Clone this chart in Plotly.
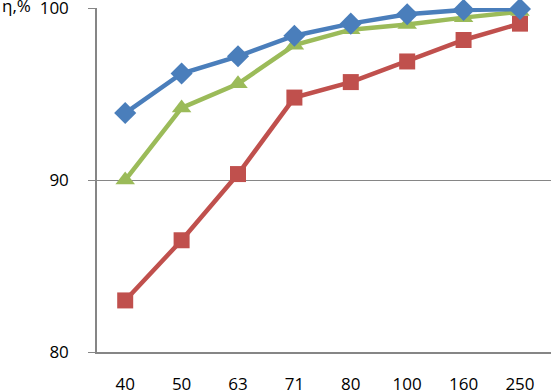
import plotly.graph_objects as go

categories = ["40", "50", "63", "71", "80", "100", "160", "250"]
series_blue = [93.9, 96.2, 97.2, 98.4, 99.1, 99.65, 99.9, 99.95]
series_green = [90.0, 94.2, 95.6, 97.85, 98.75, 99.05, 99.45, 99.8]
series_red = [83.0, 86.5, 90.35, 94.8, 95.7, 96.9, 98.15, 99.1]
y_ticks = [80, 90, 100]

fig = go.Figure()
fig.add_trace(go.Scatter(x=categories, y=series_red, mode="lines+markers",
                         line=dict(color="#C0504D", width=4.5),
                         marker=dict(symbol="square", size=16, color="#C0504D"),
                         cliponaxis=False, name="red"))
fig.add_trace(go.Scatter(x=categories, y=series_green, mode="lines+markers",
                         line=dict(color="#9BBB59", width=4.5),
                         marker=dict(symbol="triangle-up", size=17, color="#9BBB59"),
                         cliponaxis=False, name="green"))
fig.add_trace(go.Scatter(x=categories, y=series_blue, mode="lines+markers",
                         line=dict(color="#4A7EBB", width=4.5),
                         marker=dict(symbol="diamond", size=17, color="#4A7EBB"),
                         cliponaxis=False, name="blue"))

font = dict(family="Open Sans, Liberation Sans, sans-serif", size=17, color="#000000")
fig.update_layout(
    width=551, height=390,
    margin=dict(l=97, r=0, t=8, b=38, autoexpand=False),
    paper_bgcolor="white", plot_bgcolor="white",
    showlegend=False,
    font=font,
)
fig.update_xaxes(type="category", range=[-0.5, 7.55], showgrid=False,
                 showline=True, linecolor="#868686", linewidth=1.5,
                 ticks="", tickfont=font, ticklabelstandoff=16, automargin=False,
                 ticklabeloverflow="allow")
fig.update_yaxes(range=[80, 100.01], tickvals=y_ticks, showgrid=True,
                 gridcolor="#868686", gridwidth=1.2,
                 showline=True, linecolor="#868686", linewidth=1.5,
                 ticks="outside", ticklen=7, tickcolor="#868686",
                 tickfont=font, ticklabelstandoff=16, zeroline=False, automargin=False,
                 ticklabeloverflow="allow")
fig.add_annotation(text="η,%", x=0, y=100, xref="paper", yref="y",
                   xanchor="left", yanchor="middle", showarrow=False,
                   font=font, xshift=-97, yshift=3)
fig.write_html("out.html", config={"displayModeBar": False},
               post_script="document.body.style.margin='0';document.body.style.overflow='hidden';")
